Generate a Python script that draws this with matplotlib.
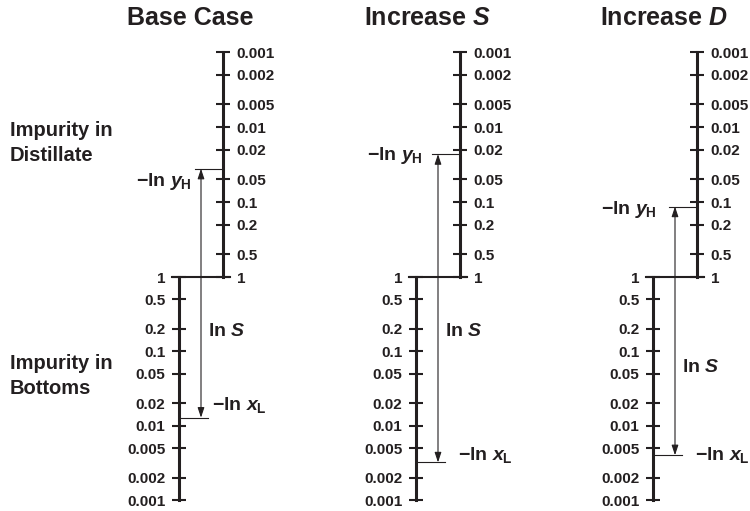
import matplotlib
matplotlib.use('Agg')
import matplotlib.pyplot as plt
from matplotlib.ticker import NullLocator

# data
titles = ['Base Case', 'Increase $S$', 'Increase $D$']
tick_values = [0.001, 0.002, 0.005, 0.01, 0.02, 0.05, 0.1, 0.2, 0.5, 1]
tick_labels = ['0.001', '0.002', '0.005', '0.01', '0.02', '0.05', '0.1', '0.2', '0.5', '1']
y_h = [0.036, 0.023, 0.115]      # impurity in distillate
x_l = [0.0128, 0.0032, 0.004]    # impurity in bottoms

# layout (pixels)
W, H = 750, 511
panel_x = [179, 416, 653]
gap = 44
top_px, one_px, bot_px = 52, 277, 500
title_x = [190, 427, 664]
yh_label = [(192, 182), (423, 155), (657, 210)]
lns_label = [(208, 331), (445, 331), (682, 368)]
xl_label = [(212, 405), (458, 455), (695, 455)]

INK = '#231f20'

plt.rcParams['font.family'] = ['Liberation Sans', 'DejaVu Sans']
plt.rcParams['font.weight'] = 'bold'
plt.rcParams['mathtext.fontset'] = 'custom'
plt.rcParams['mathtext.rm'] = 'Liberation Sans:bold'
plt.rcParams['mathtext.bf'] = 'Liberation Sans:bold'
plt.rcParams['mathtext.it'] = 'Liberation Sans:bold:italic'
plt.rcParams['mathtext.sf'] = 'Liberation Sans:bold'
plt.rcParams['text.color'] = INK


def px(x, y):
    return x / W, 1 - y / H


fig = plt.figure(figsize=(W / 100, H / 100), dpi=100)

for i in range(3):
    left = panel_x[i] / W
    width = gap / W
    ax_up = fig.add_axes([left, (H - one_px) / H, width, (one_px - top_px) / H])
    ax_low = fig.add_axes([left, (H - bot_px) / H, width, (bot_px - one_px) / H])
    for ax in (ax_up, ax_low):
        ax.set_yscale('log')
        ax.set_xlim(0, 1)
        ax.patch.set_visible(False)
        ax.xaxis.set_visible(False)
        for s in ax.spines.values():
            s.set_visible(False)
            s.set_linewidth(2.2)
            s.set_color(INK)
        ax.set_yticks(tick_values, tick_labels)
        ax.yaxis.set_minor_locator(NullLocator())
        ax.tick_params(axis='y', which='major', direction='inout', length=9.5,
                       width=1.5, pad=5, labelsize=11, color=INK, labelcolor=INK)
    ax_up.set_ylim(1, 0.001)
    ax_up.spines['right'].set_visible(True)
    ax_up.yaxis.tick_right()
    ax_low.set_ylim(0.001, 1)
    ax_low.spines['left'].set_visible(True)
    ax_low.yaxis.tick_left()

    # joint at 1
    ax_low.plot([-0.15, 1.15], [1, 1], color=INK, lw=1.5, clip_on=False)

    # impurity markers
    ax_up.plot([0.36, 1], [y_h[i], y_h[i]], color=INK, lw=0.8, clip_on=False)
    ax_low.plot([0, 0.66], [x_l[i], x_l[i]], color=INK, lw=0.8, clip_on=False)
    ax_up.annotate('', xy=(0.5, y_h[i]), xycoords='data',
                   xytext=(0.5, x_l[i]), textcoords=ax_low.transData,
                   arrowprops=dict(arrowstyle='<|-|>,head_length=0.6,head_width=0.2',
                                   lw=0.8, color=INK, shrinkA=0, shrinkB=0),
                   annotation_clip=False)

    fig.text(*px(title_x[i], 18), titles[i], ha='center', va='center', fontsize=18)
    fig.text(*px(*yh_label[i]), '\u2212ln $y_{\\mathrm{H}}$', ha='right', va='center', fontsize=14)
    fig.text(*px(*lns_label[i]), 'ln $S$', ha='left', va='center', fontsize=14)
    fig.text(*px(*xl_label[i]), '\u2212ln $x_{\\mathrm{L}}$', ha='left', va='center', fontsize=14)

fig.text(*px(10, 143), 'Impurity in\nDistillate', ha='left', va='center', fontsize=14.5, linespacing=1.35)
fig.text(*px(10, 376), 'Impurity in\nBottoms', ha='left', va='center', fontsize=14.5, linespacing=1.35)

fig.savefig('out.png', dpi=100)
